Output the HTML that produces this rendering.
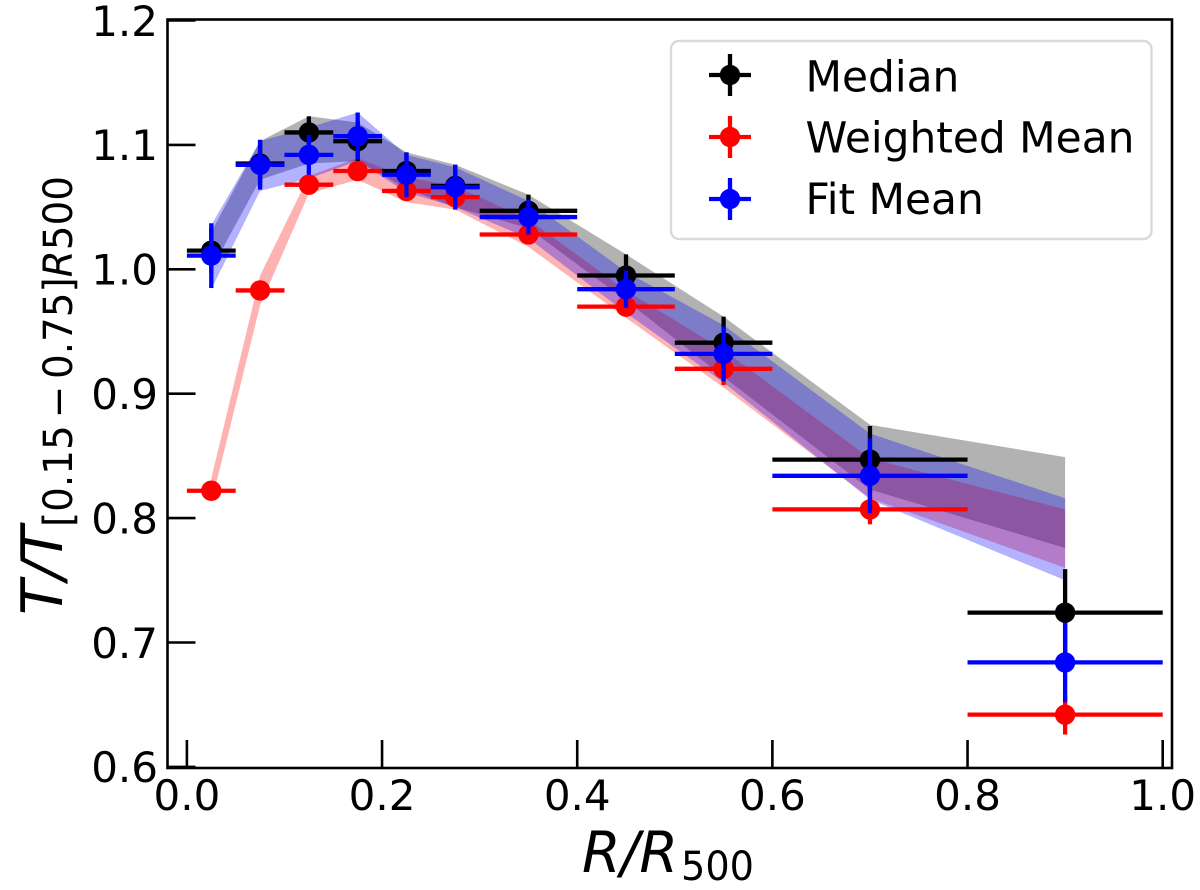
<!DOCTYPE html>
<html>
<head>
<meta charset="utf-8">
<title>Temperature profile</title>
<style>
html,body{margin:0;padding:0;background:#fff;}
svg{display:block;}
text{font-family:"DejaVu Sans","Liberation Sans",sans-serif;fill:#000;}
</style>
</head>
<body>
<svg id="chart" width="1200" height="890" viewBox="0 0 1200 890" xmlns="http://www.w3.org/2000/svg">
  <rect x="0" y="0" width="1200" height="890" fill="#fff"/>
  <g id="bands"></g>
  <g id="series"></g>
  <g id="ticks"></g>
  <rect x="167.5" y="19.5" width="1004.5" height="748.5" fill="none" stroke="#000" stroke-width="2.6"/>
  <text transform="translate(62,615) rotate(-90)" font-size="57" font-style="italic" textLength="89" lengthAdjust="spacingAndGlyphs">T/T</text>
  <text transform="translate(72,527) rotate(-90)" font-size="40" textLength="351" lengthAdjust="spacingAndGlyphs">[0.15<tspan dx="7">−</tspan><tspan dx="7">0.75]</tspan><tspan font-style="italic">R</tspan>500</text>
  <text x="582" y="872" font-size="57" font-style="italic" textLength="96" lengthAdjust="spacingAndGlyphs">R/R</text>
  <text x="681" y="880" font-size="40" textLength="73" lengthAdjust="spacingAndGlyphs">500</text>
  <g>
    <rect x="671" y="41" width="480.5" height="198" rx="8" ry="8" fill="#fff" stroke="#d9d9d9" stroke-width="2.4"/>
    <g id="legend-handles"></g>
    <text x="805.5" y="91.5" font-size="42.3">Median</text>
    <text x="805.5" y="152.5" font-size="42.3">Weighted Mean</text>
    <text x="805.5" y="214" font-size="42.3">Fit Mean</text>
  </g>
</svg>
<script>
const radius = [0.025,0.075,0.125,0.175,0.225,0.275,0.35,0.45,0.55,0.7,0.9];
const radiusErr = [0.025,0.025,0.025,0.025,0.025,0.025,0.05,0.05,0.05,0.1,0.1];

const medianValues = [1.015,1.085,1.11,1.103,1.079,1.067,1.047,0.995,0.941,0.847,0.724];
const medianErr = [0.018,0.019,0.013,0.016,0.015,0.017,0.013,0.017,0.021,0.027,0.035];
const medianBandHigh = [1.03,1.103,1.123,1.118,1.094,1.084,1.06,1.012,0.962,0.875,0.849];
const medianBandLow = [1.0,1.072,1.085,1.087,1.065,1.05,1.033,0.975,0.9135,0.823,0.776];

const weightedValues = [0.822,0.983,1.068,1.079,1.063,1.058,1.028,0.97,0.92,0.807,0.642];
const weightedErr = [0.006,0.006,0.006,0.006,0.008,0.008,0.008,0.008,0.013,0.012,0.016];
const weightedBandHigh = [0.832,0.995,1.075,1.0895,1.074,1.067,1.04,0.983,0.935,0.848,0.807];
const weightedBandLow = [0.812,0.971,1.061,1.072,1.054,1.048,1.018,0.961,0.905,0.816,0.76];

const fitValues = [1.011,1.084,1.092,1.107,1.076,1.066,1.042,0.984,0.932,0.834,0.684];
const fitErr = [0.026,0.02,0.016,0.019,0.018,0.018,0.014,0.015,0.022,0.03,0.032];
const fitBandHigh = [1.0355,1.103,1.114,1.126,1.092,1.082,1.055,0.998,0.955,0.868,0.816];
const fitBandLow = [0.984,1.063,1.073,1.087,1.062,1.05,1.025,0.965,0.909,0.815,0.75];

const xTickValues = [0,0.2,0.4,0.6,0.8,1.0];
const yTickValues = [0.6,0.7,0.8,0.9,1.0,1.1,1.2];

const NS = 'http://www.w3.org/2000/svg';
function xScale(v){ return 186.9 + 975.8 * v; }
function yScale(v){ return 269.3 - 1244 * (v - 1); }
function make(tag, attrs, parent){
  const el = document.createElementNS(NS, tag);
  for (const k in attrs) el.setAttribute(k, attrs[k]);
  parent.appendChild(el);
  return el;
}

const bandsGroup = document.getElementById('bands');
const seriesGroup = document.getElementById('series');
const ticksGroup = document.getElementById('ticks');
const legendGroup = document.getElementById('legend-handles');

function drawBand(high, low, color, name){
  const top = radius.map((r,i)=> xScale(r).toFixed(2)+','+yScale(high[i]).toFixed(2));
  const bottom = radius.map((r,i)=> xScale(r).toFixed(2)+','+yScale(low[i]).toFixed(2)).reverse();
  const poly = make('polygon', {points: top.concat(bottom).join(' '), fill: color, 'fill-opacity': 0.3}, bandsGroup);
  
  
}

function drawSeries(values, errs, color, name){
  const g = make('g', {}, seriesGroup);
  
  
  radius.forEach((r,i)=>{
    const h = make('line', {x1: xScale(r - radiusErr[i]), x2: xScale(r + radiusErr[i]), y1: yScale(values[i]), y2: yScale(values[i]), stroke: color, 'stroke-width': 4.3}, g);
    
    
    const v = make('line', {x1: xScale(r), x2: xScale(r), y1: yScale(values[i] + errs[i]), y2: yScale(values[i] - errs[i]), stroke: color, 'stroke-width': 4.3}, g);
    
    
    const c = make('circle', {cx: xScale(r), cy: yScale(values[i]), r: 10.2, fill: color}, g);
    
    
  });
}

drawBand(medianBandHigh, medianBandLow, '#000', 'median-band');
drawBand(weightedBandHigh, weightedBandLow, '#f00', 'weighted-mean-band');
drawBand(fitBandHigh, fitBandLow, '#00f', 'fit-mean-band');

drawSeries(medianValues, medianErr, '#000', 'median-series');
drawSeries(weightedValues, weightedErr, '#f00', 'weighted-mean-series');
drawSeries(fitValues, fitErr, '#00f', 'fit-mean-series');

xTickValues.forEach(v=>{
  const t = make('line', {x1: xScale(v), x2: xScale(v), y1: 740, y2: 768, stroke: '#000', 'stroke-width': 2.6}, ticksGroup);
  
  
  const l = make('text', {x: xScale(v), y: 810, 'font-size': 42, 'text-anchor': 'middle'}, ticksGroup);
  
  
  l.textContent = v.toFixed(1);
});
yTickValues.forEach(v=>{
  const t = make('line', {x1: 167.5, x2: 195.5, y1: yScale(v), y2: yScale(v), stroke: '#000', 'stroke-width': 2.6}, ticksGroup);
  
  
  const l = make('text', {x: 158, y: yScale(v) + 15.3, 'font-size': 42, 'text-anchor': 'end'}, ticksGroup);
  
  
  l.textContent = v.toFixed(1);
});

const legendColors = ['#000','#f00','#00f'];
const legendNames = ['legend-handle-median','legend-handle-weighted-mean','legend-handle-fit-mean'];
const legendRows = [75,137,199];
legendColors.forEach((color,i)=>{
  const g = make('g', {}, legendGroup);
  
  
  make('line', {x1: 709, x2: 751, y1: legendRows[i], y2: legendRows[i], stroke: color, 'stroke-width': 4.3}, g);
  make('line', {x1: 730, x2: 730, y1: legendRows[i] - 21, y2: legendRows[i] + 21, stroke: color, 'stroke-width': 4.3}, g);
  make('circle', {cx: 730, cy: legendRows[i], r: 10.2, fill: color}, g);
});
</script>
</body>
</html>
